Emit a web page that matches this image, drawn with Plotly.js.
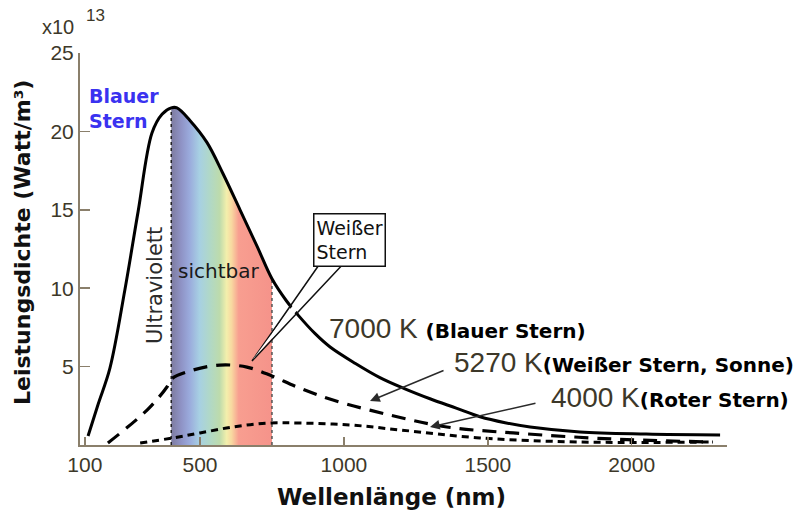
<!DOCTYPE html>
<html>
<head>
<meta charset="utf-8">
<script src="https://cdn.plot.ly/plotly-3.0.1.min.js"></script>
<style>body{margin:0;background:#fff}</style>
</head>
<body>
<div id="chart" style="width:804px;height:515px"></div>
<script>
// Wavelength (nm) and power density (x10^13 W/m^3)
const wl7000 = [111, 146, 187, 239, 285, 333, 368, 400, 420, 465, 524, 580, 639, 700, 750, 800, 840, 900, 952, 1040, 1125, 1210, 1299, 1390, 1473, 1560, 1647, 1820, 2050, 2307];
const p7000  = [0.57, 2.6, 4.9, 9.9, 14.9, 19.9, 21.1, 21.5, 21.5, 20.7, 19.3, 17.3, 15.0, 12.6, 10.6, 9.2, 8.3, 7.1, 6.25, 5.2, 4.3, 3.6, 2.95, 2.35, 1.8, 1.42, 1.15, 0.83, 0.7, 0.64];

const wl5270 = [180, 316, 385, 400, 476, 569, 663, 750, 837, 962, 1160, 1358, 1588, 1935, 2282];
const p5270  = [0.13, 2.23, 3.7, 4.2, 4.78, 5.1, 4.97, 4.4, 3.7, 2.87, 1.91, 1.15, 0.77, 0.38, 0.19];

const wl4000 = [292, 406, 500, 615, 733, 847, 1021, 1195, 1473, 1820, 2282];
const p4000  = [0.13, 0.45, 0.77, 1.15, 1.4, 1.4, 1.28, 0.96, 0.45, 0.19, 0.19];

const visibleRange = [400, 750];
const xTickVals = [100, 500, 1000, 1500, 2000];
const yTickVals = [5, 10, 15, 20, 25];

// visible band under the 7000 K curve
const visX = [], visY = [];
wl7000.forEach((w, i) => { if (w >= visibleRange[0] && w <= visibleRange[1]) { visX.push(w); visY.push(p7000[i]); } });
const vAt = (w) => p7000[wl7000.indexOf(w)];

const spectrum = [[0,'#7d7b9f'],[0.1,'#8f93c6'],[0.18,'#9aaadc'],[0.28,'#a7d0e3'],[0.38,'#b0d8c8'],
                  [0.48,'#bddbac'],[0.55,'#f3efac'],[0.6,'#f8d8a0'],[0.67,'#f89e90'],[1,'#f5938a']];

const traces = [
  {x: visX, y: visY, type:'scatter', mode:'lines', fill:'tozeroy', line:{width:0, shape:'spline'},
   fillgradient:{type:'horizontal', colorscale: spectrum, start: visibleRange[0], stop: visibleRange[1]},
   hoverinfo:'skip', showlegend:false},
  {x:[visibleRange[0], visibleRange[0]], y:[0, vAt(visibleRange[0])], mode:'lines', line:{color:'#222', width:1.5, dash:'dot'}, showlegend:false},
  {x:[visibleRange[1], visibleRange[1]], y:[0, vAt(visibleRange[1])], mode:'lines', line:{color:'#555', width:1.5, dash:'dot'}, showlegend:false},
  {x: wl7000, y: p7000, mode:'lines', line:{color:'#000', width:3, shape:'spline'}, name:'7000 K', showlegend:false},
  {x: wl5270, y: p5270, mode:'lines', line:{color:'#000', width:3.2, shape:'spline', dash:'14px,9px'}, name:'5270 K', showlegend:false},
  {x: wl4000, y: p4000, mode:'lines', line:{color:'#000', width:3, shape:'spline', dash:'7px,5px'}, name:'4000 K', showlegend:false}
];

const bm = 'DejaVu Sans';
const hv = 'Liberation Sans';
const grayTxt = '#3d3829';
const axisCol = '#8a7f6b';

const annotations = [
  {xref:'paper', yref:'paper', x:-0.0618, y:1.0663, xanchor:'left', yanchor:'middle', showarrow:false,
   text:'x10', font:{family:hv, size:20, color:grayTxt}},
  {xref:'paper', yref:'paper', x:0.0062, y:1.0944, xanchor:'left', yanchor:'middle', showarrow:false,
   text:'13', font:{family:hv, size:17, color:grayTxt}},
  {xref:'paper', yref:'paper', x:-0.0896, y:0.5153, xanchor:'center', yanchor:'middle', textangle:-90, showarrow:false,
   text:'<b>Leistungsdichte (Watt/m³)</b>', font:{family:bm, size:22, color:'#111'}},
  {xref:'paper', yref:'paper', x:0.4807, y:-0.1327, xanchor:'center', yanchor:'middle', showarrow:false,
   text:'<b>Wellenlänge (nm)</b>', font:{family:bm, size:23, color:'#111'}},
  {x:110.8, y:21.49, xanchor:'left', yanchor:'middle', showarrow:false, borderpad:0, align:'left',
   text:'<b>Blauer<br>Stern</b>', font:{family:bm, size:19, color:'#3a32f0'}},
  {x:343.6, y:10.14, textangle:-90, showarrow:false, borderpad:0,
   text:'Ultraviolett', font:{family:bm, size:21, color:'#2b2b2b'}},
  {x:420.1, y:11.1, xanchor:'left', yanchor:'middle', showarrow:false, borderpad:0,
   text:'sichtbar', font:{family:bm, size:20, color:'#1a1a1a'}},
  {x:944.7, y:7.40, xanchor:'left', yanchor:'middle', showarrow:false, borderpad:0,
   text:'7000 K <span style="font-family:DejaVu Sans;font-size:20px;font-weight:bold;color:#000">(Blauer Stern)</span>',
   font:{family:hv, size:28, color:grayTxt}},
  {x:1378.9, y:5.23, xanchor:'left', yanchor:'middle', showarrow:false, borderpad:0,
   text:'5270 K<span style="font-family:DejaVu Sans;font-size:20px;font-weight:bold;color:#000">(Weißer Stern, Sonne)</span>',
   font:{family:hv, size:28, color:grayTxt}},
  {x:1716.1, y:3.0, xanchor:'left', yanchor:'middle', showarrow:false, borderpad:0,
   text:'4000 K<span style="font-family:DejaVu Sans;font-size:20px;font-weight:bold;color:#000">(Roter Stern)</span>',
   font:{family:hv, size:28, color:grayTxt}},
  // arrows
  {x:1090.7, y:2.81, ax:75, ay:-31, text:'', showarrow:true, arrowhead:2, arrowsize:1.3, arrowwidth:1.5, arrowcolor:'#2a2a2a'},
  {x:1299, y:1.15, ax:107, ay:-24, text:'', showarrow:true, arrowhead:2, arrowsize:1.3, arrowwidth:1.5, arrowcolor:'#2a2a2a'},
  // Weißer Stern box
  {x:1019.5, y:13.07, showarrow:false, align:'left', bgcolor:'#fff', bordercolor:'#111', borderwidth:1.5, borderpad:2,
   text:'Weißer<br>Stern', font:{family:bm, size:19, color:'#111'}}
];

const shapes = [
  {type:'path', xref:'x', yref:'y', layer:'above',
   path:'M 920.4,11.67 L 680.7,5.36 L 1003.8,11.67',
   fillcolor:'rgba(0,0,0,0)', line:{color:'#111', width:1.5}},
  {type:'path', xref:'x', yref:'y', layer:'above',
   path:'M 935,11.67 L 683,5.45 L 990,11.67 Z',
   fillcolor:'#fff', line:{width:0}}
];

const layout = {
  width:804, height:515,
  margin:{l:80, r:77, t:53, b:70, pad:0},
  paper_bgcolor:'#fff', plot_bgcolor:'#fff',
  showlegend:false,
  xaxis:{range:[83, 2331], tickvals:xTickVals, ticktext:xTickVals.map(String), ticks:'inside', ticklen:8, tickwidth:1.5,
         tickcolor:axisCol, showline:true, linecolor:axisCol, linewidth:2, showgrid:false, zeroline:false,
         tickfont:{family:hv, size:21, color:grayTxt}, fixedrange:true},
  yaxis:{range:[0, 25], tickvals:yTickVals, ticktext:yTickVals.map(String), ticks:'inside', ticklen:10, tickwidth:1.5,
         tickcolor:axisCol, showline:true, linecolor:axisCol, linewidth:2, showgrid:false, zeroline:false,
         tickfont:{family:hv, size:21, color:grayTxt}, fixedrange:true},
  annotations, shapes
};

Plotly.newPlot('chart', traces, layout, {staticPlot:true, displayModeBar:false});
</script>
</body>
</html>
